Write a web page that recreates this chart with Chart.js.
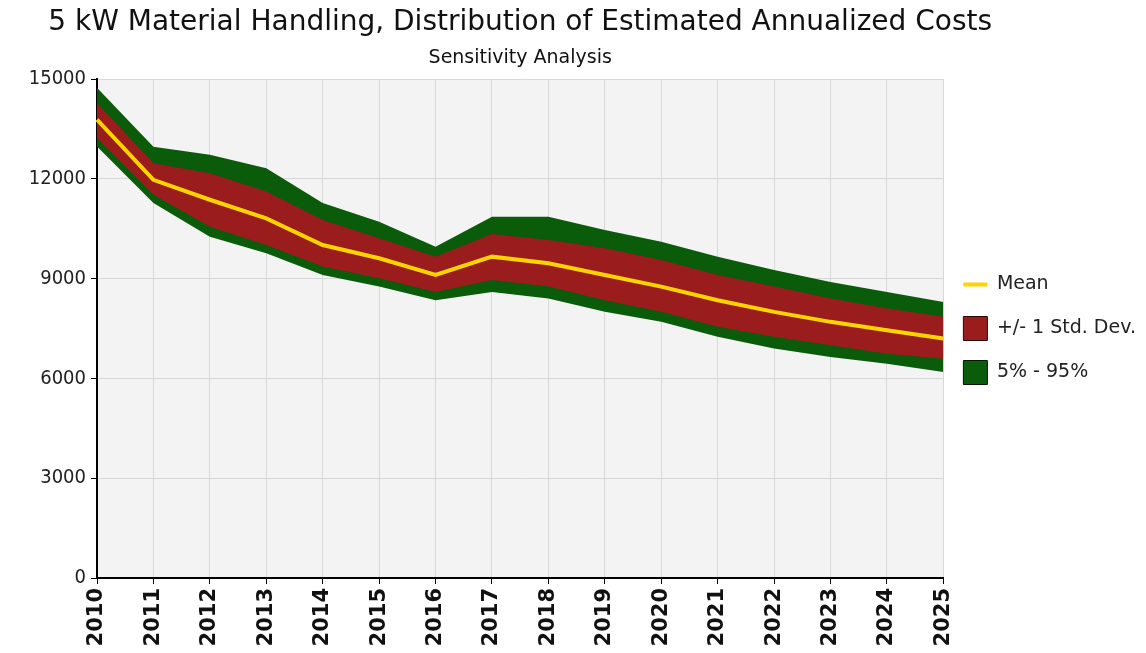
<!DOCTYPE html>
<html>
<head>
<meta charset="utf-8">
<script src="https://cdn.jsdelivr.net/npm/chart.js@4/dist/chart.umd.min.js"></script>
<style>
html,body{margin:0;padding:0;background:#fff;}
#wrap{width:1146px;height:653px;}
</style>
</head>
<body>
<div id="wrap"><canvas id="costChart"></canvas></div>
<script>
// values
const years = ["2010","2011","2012","2013","2014","2015","2016","2017","2018","2019","2020","2021","2022","2023","2024","2025"];
const meanCost = [13780,11970,11370,10810,10010,9610,9110,9660,9460,9110,8760,8350,8000,7700,7450,7200];
const sdUpper = [14280,12470,12170,11620,10760,10210,9660,10340,10160,9910,9560,9110,8760,8400,8100,7850];
const sdLower = [13230,11520,10560,10010,9360,9010,8600,8960,8760,8350,8000,7550,7250,7000,6740,6590];
const p95 = [14740,12960,12720,12320,11270,10710,9960,10860,10860,10460,10110,9660,9260,8900,8600,8300];
const p5 = [12970,11270,10260,9760,9110,8760,8350,8600,8400,8000,7700,7250,6900,6640,6440,6190];
const yTicks = [0,3000,6000,9000,12000,15000];

const COND = "'DejaVu Sans Condensed', 'DejaVu Sans', sans-serif";
const FONT = "'DejaVu Sans', sans-serif";
const YELLOW = "#ffd400";
const RED = "#9b1c1c";
const GREEN = "#0a5b0a";

const plotBg = {
  id: "plotBg",
  beforeDraw(chart) {
    const a = chart.chartArea, ctx = chart.ctx;
    ctx.save();
    ctx.fillStyle = "#f3f3f3";
    ctx.fillRect(a.left, a.top, a.right - a.left, a.bottom - a.top);
    ctx.restore();
  }
};

// title centred over the plot area, plus the line swatch for "Mean" in the legend
const extras = {
  id: "extras",
  afterDraw(chart) {
    const a = chart.chartArea, ctx = chart.ctx;
    const cx = (a.left + a.right) / 2;
    ctx.save();
    ctx.fillStyle = "#111";
    ctx.textAlign = "center";
    ctx.textBaseline = "middle";
    ctx.font = "28px " + FONT;
    ctx.fillText("5 kW Material Handling, Distribution of Estimated Annualized Costs", cx, 23);
    ctx.font = "19px " + FONT;
    ctx.fillText("Sensitivity Analysis", cx, 58);
    const hb = chart.legend.legendHitBoxes[0];
    if (hb) {
      const y = hb.top + hb.height / 2;
      ctx.strokeStyle = YELLOW;
      ctx.lineWidth = 4;
      ctx.beginPath();
      ctx.moveTo(hb.left, y);
      ctx.lineTo(hb.left + 24, y);
      ctx.stroke();
    }
    ctx.restore();
  }
};

new Chart(document.getElementById("costChart"), {
  type: "line",
  data: {
    labels: years,
    datasets: [
      {label: "Mean", data: meanCost, borderColor: YELLOW, borderWidth: 4, pointRadius: 0, fill: false, tension: 0},
      {label: "+/- 1 Std. Dev.", data: sdUpper, borderWidth: 0, borderColor: "rgba(0,0,0,0)", backgroundColor: RED, pointRadius: 0, fill: "+1"},
      {label: "sdLower", data: sdLower, borderWidth: 0, borderColor: "rgba(0,0,0,0)", pointRadius: 0, fill: false},
      {label: "5% - 95%", data: p95, borderWidth: 0, borderColor: "rgba(0,0,0,0)", backgroundColor: GREEN, pointRadius: 0, fill: "+1"},
      {label: "p5", data: p5, borderWidth: 0, borderColor: "rgba(0,0,0,0)", pointRadius: 0, fill: false}
    ]
  },
  options: {
    responsive: true,
    maintainAspectRatio: false,
    animation: false,
    layout: {padding: {top: 79, left: 0, right: 0, bottom: 0}},
    plugins: {
      tooltip: {enabled: false},
      legend: {
        position: "right",
        align: "center",
        fullSize: false,
        labels: {
          boxWidth: 24,
          boxHeight: 24,
          padding: 20,
          color: "#222",
          font: {family: FONT, size: 19},
          generateLabels: () => [
            {text: "Mean", strokeStyle: "rgba(0,0,0,0)", fillStyle: "rgba(0,0,0,0)", lineWidth: 0, fontColor: "#222"},
            {text: "+/- 1 Std. Dev.", strokeStyle: "#2a0505", fillStyle: RED, lineWidth: 1, fontColor: "#222"},
            {text: "5% - 95%", strokeStyle: "#021a02", fillStyle: GREEN, lineWidth: 1, fontColor: "#222"}
          ]
        }
      }
    },
    scales: {
      x: {
        grid: {color: "#d8d8d8", tickColor: "#000", tickLength: 6},
        border: {color: "#000", width: 2},
        ticks: {color: "#111", font: {family: FONT, size: 21, weight: "bold"}, minRotation: 90, maxRotation: 90, autoSkip: false, padding: 4},
        afterFit: s => { s.height = 75; }
      },
      y: {
        min: 0,
        max: 15000,
        grid: {color: "#d8d8d8", tickColor: "#000", tickLength: 6},
        border: {color: "#000", width: 2},
        ticks: {color: "#222", font: {family: COND, size: 20}, padding: 5, stepSize: 3000,
          callback: v => yTicks.includes(v) ? String(v) : null},
        afterFit: s => { s.width = 97; }
      }
    }
  },
  plugins: [plotBg, extras]
});
</script>
</body>
</html>
